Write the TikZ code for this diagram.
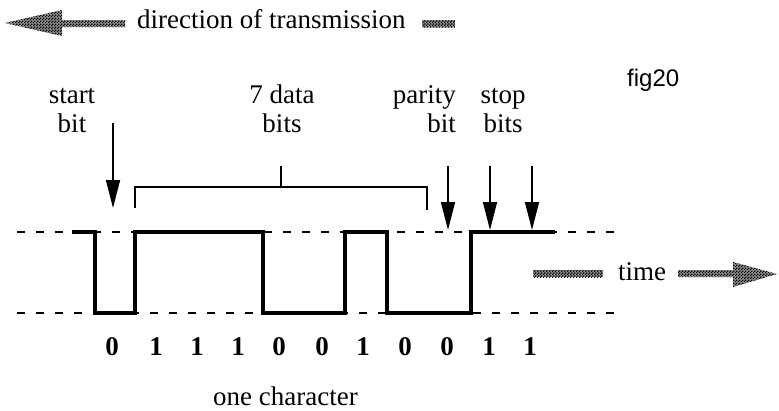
\documentclass[tikz,border=0pt]{standalone}
\usepackage{fontspec}
\setmainfont{Liberation Serif}
\setsansfont{Liberation Sans}
\usetikzlibrary{arrows.meta,patterns.meta}
\tikzdeclarepattern{
  name=finechecker,
  type=uncolored,
  bounding box={(0pt,0pt) and (3pt,3pt)},
  tile size={(3pt,3pt)},
  code={
    \pgfpathrectangle{\pgfpointorigin}{\pgfqpoint{1.5pt}{1.5pt}}
    \pgfpathrectangle{\pgfqpoint{1.5pt}{1.5pt}}{\pgfqpoint{1.5pt}{1.5pt}}
    \pgfusepath{fill}
  }
}
\tikzset{
  lvl/.style={line width=1.6pt,dash pattern=on 8pt off 11pt},
  sig/.style={line width=4pt,line join=miter},
  pointer/.style={line width=1.5pt,-{Triangle[length=28pt,width=14pt]}},
  brace/.style={line width=1.5pt},
  lbl/.style={inner sep=0pt,anchor=base,font=\fontsize{27}{29}\selectfont},
  bitval/.style={inner sep=0pt,anchor=base,font=\fontsize{27}{29}\selectfont\bfseries},
  checker/.style={fill=black!45,postaction={pattern=finechecker}}
}
\begin{document}
\begin{tikzpicture}[x=1pt,y=-1pt]
	   \useasboundingbox (0,0) rectangle (779,410);
	   \fill [checker] (125,20) -- (62,20) -- (62,10) -- (5,23) -- (62,36) -- (62,27) -- (125,27) -- cycle;
	   \node [lbl,anchor=base west] (dir) at (137,28) {direction of transmission};
	   \fill [checker] (422,20) rectangle (455,27);
	   \fill [checker] (533,270) rectangle (603,277);
	   \node [lbl,anchor=base west] (time) at (618,280) {time};
	   \fill [checker] (678,270) -- (733,270) -- (733,262) -- (777,274) -- (733,287) -- (733,277) -- (678,277) -- cycle;
	   \node [inner sep=0pt,anchor=base west,font=\sffamily\fontsize{24}{26}\selectfont] (fig) at (627,86) {fig20};
	   \draw [lvl] (17,232) -- (618,232);
	   \draw [lvl] (17,313) -- (618,313);
	   \draw [sig] (72,232) -- (95,232) -- (95,313) -- (135,313) -- (135,232) -- (263,232) -- (263,313) -- (345,313) -- (345,232) -- (387,232) -- (387,313) -- (471,313) -- (471,232) -- (555,232);
	   \node [lbl] (start1) at (72,103) {start};
	   \node [lbl] (start2) at (72,132) {bit};
	   \node [lbl] (data1) at (282,103) {7 data};
	   \node [lbl] (data2) at (282,132) {bits};
	   \node [lbl,anchor=base east] (par1) at (456,103) {parity};
	   \node [lbl,anchor=base east] (par2) at (456,132) {bit};
	   \node [lbl] (stop1) at (503,103) {stop};
	   \node [lbl] (stop2) at (503,132) {bits};
	   \coordinate (st0) at (113,123);
	   \coordinate (st1) at (113,208);
	   \coordinate (pa0) at (448,166);
	   \coordinate (pa1) at (448,230);
	   \coordinate (sp0) at (490,166);
	   \coordinate (sp1) at (490,230);
	   \coordinate (sq0) at (532,166);
	   \coordinate (sq1) at (532,230);
	   \draw [pointer] (st0) -- (st1);
	   \draw [pointer] (pa0) -- (pa1);
	   \draw [pointer] (sp0) -- (sp1);
	   \draw [pointer] (sq0) -- (sq1);
	   \draw [brace] (135,208) -- (135,187) -- (427,187) -- (427,210);
	   \draw [brace] (281,187) -- (281,166);
	   \node [bitval] (b0) at (112,355) {0};
	   \node [bitval] (b1) at (156,355) {1};
	   \node [bitval] (b2) at (197,355) {1};
	   \node [bitval] (b3) at (238,355) {1};
	   \node [bitval] (b4) at (279,355) {0};
	   \node [bitval] (b5) at (322,355) {0};
	   \node [bitval] (b6) at (363,355) {1};
	   \node [bitval] (b7) at (405,355) {0};
	   \node [bitval] (b8) at (447,355) {0};
	   \node [bitval] (b9) at (489,355) {1};
	   \node [bitval] (b10) at (530,355) {1};
	   \node [lbl,anchor=base west] (onechar) at (213,405) {one character};
	\end{tikzpicture}
\end{document}
